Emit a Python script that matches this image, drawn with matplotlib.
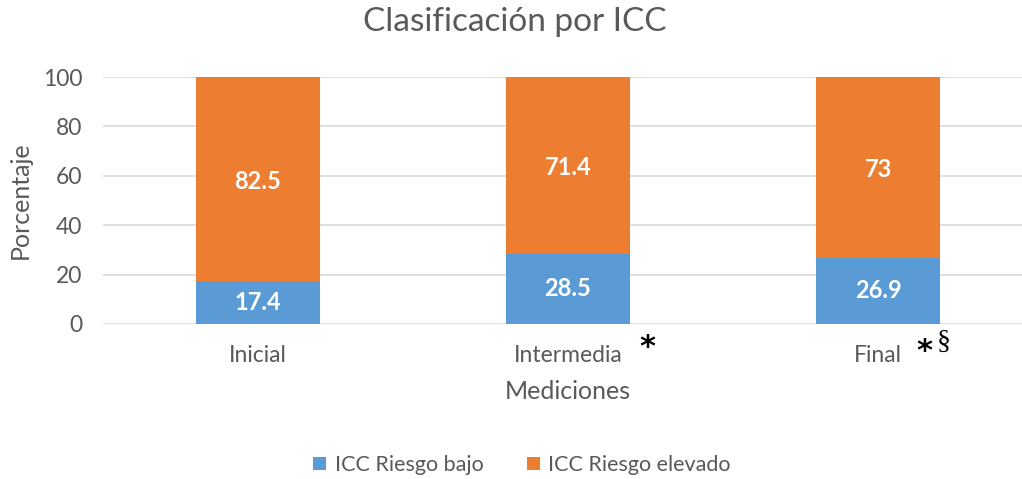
import matplotlib
matplotlib.use("Agg")
import matplotlib.pyplot as plt
import matplotlib.transforms as mtransforms
import numpy as np

categories = ["Inicial", "Intermedia", "Final"]
riesgo_bajo = [17.4, 28.5, 26.9]
riesgo_elevado = [82.5, 71.4, 73]
bajo_labels = ["17.4", "28.5", "26.9"]
elevado_labels = ["82.5", "71.4", "73"]
yticks = [0, 20, 40, 60, 80, 100]

BLUE = "#5B9BD5"
ORANGE = "#ED7D31"
GRAY = "#595959"
plt.rcParams['font.family'] = ['Lato', 'DejaVu Sans']

W, H = 1022, 479
fig = plt.figure(figsize=(W / 100, H / 100), dpi=100)
left, right_ = 103, 1033
top, bottom = 77, 324
ax = fig.add_axes([left / W, (H - bottom) / H, (right_ - left) / W, (bottom - top) / H])

x = np.arange(len(categories))
bottom_vals = np.array(riesgo_bajo)
b1 = ax.bar(x, riesgo_bajo, width=0.4, color=BLUE, zorder=3, label="ICC Riesgo bajo")
b2 = ax.bar(x, riesgo_elevado, width=0.4, bottom=bottom_vals, color=ORANGE, zorder=3,
            label="ICC Riesgo elevado")

for xi, v, lab in zip(x, riesgo_bajo, bajo_labels):
    ax.text(xi, v / 2, lab, ha="center", va="center", color="white",
            fontsize=17, fontweight="bold", zorder=4)
for xi, b, v, lab in zip(x, riesgo_bajo, riesgo_elevado, elevado_labels):
    ax.text(xi, b + v / 2 - 1, lab, ha="center", va="center", color="white",
            fontsize=17, fontweight="bold", zorder=4)

ax.set_xlim(-0.5, 2.5)
ax.set_ylim(0, 100)
ax.set_yticks(yticks)
ax.set_xticks(x)
ax.set_xticklabels(categories)
ax.yaxis.grid(True, color="#D9D9D9", linewidth=1.2, zorder=0)
for s in ax.spines.values():
    s.set_visible(False)
ax.tick_params(axis="both", length=0, colors=GRAY, labelsize=16.5)
ax.tick_params(axis="x", pad=15)
ax.tick_params(axis="y", pad=15)

ax.set_xlabel("Mediciones", fontsize=18, color=GRAY, labelpad=10)
ax.set_ylabel("Porcentaje", fontsize=18, color=GRAY, labelpad=8)
fig.text(515 / W, 1 - 22 / H, "Clasificación por ICC", ha="center", va="center",
         fontsize=24, color=GRAY)

trans = mtransforms.blended_transform_factory(ax.transData, ax.transAxes)
ax.text(1.257, -0.095, "*", transform=trans, ha="center", va="center",
        fontsize=22, fontweight="bold", color="black", family="DejaVu Sans")
ax.text(2.15, -0.11, "*", transform=trans, ha="center", va="center",
        fontsize=22, fontweight="bold", color="black", family="DejaVu Sans")
ax.text(2.212, -0.075, "§", transform=trans, ha="center", va="center",
        fontsize=20, color="black", family="Liberation Serif")

fig.legend(handles=[b1, b2], loc="center", bbox_to_anchor=(522 / W, 1 - 465 / H),
           ncol=2, frameon=False, fontsize=15.5, labelcolor=GRAY,
           handlelength=0.6, handleheight=0.6, handletextpad=0.4, columnspacing=2.0)

fig.savefig("out.png", dpi=100)
